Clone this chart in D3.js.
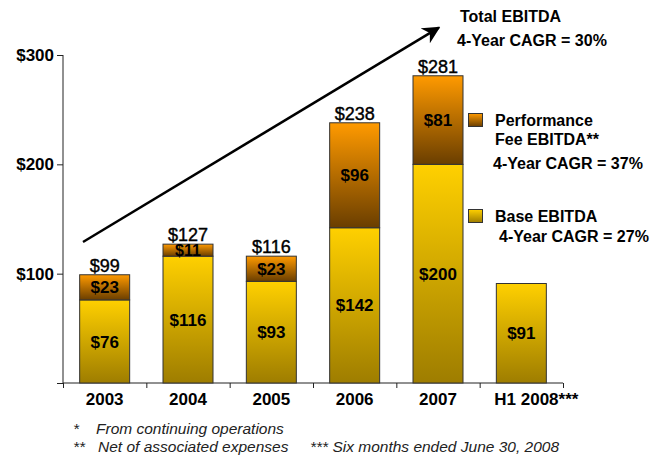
<!DOCTYPE html>
<html>
<head>
<meta charset="utf-8">
<script src="https://cdn.jsdelivr.net/npm/d3@7"></script>
<style>
  body { margin: 0; background: #fff; }
  svg { font-family: Arial, "Liberation Sans", sans-serif; }
  .axis path, .axis line { stroke: #222; }
  .axis text { fill: #000; font-weight: bold; font-size: 17px; }
</style>
</head>
<body>
<div id="chart"></div>
<script>
// chart data
const years = ["2003", "2004", "2005", "2006", "2007", "H1 2008"];
const baseEbitda = [76, 116, 93, 142, 200, 91];
const perfEbitda = [23, 11, 23, 96, 81, 0];
const totals = [99, 127, 116, 238, 281, null];
const yTicks = [0, 100, 200, 300];

// trend arrow ends, in (category position, $) units
const arrowPts = [[0.24, 129], [4.51, 325]];

const margin = { top: 55, right: 95, bottom: 73, left: 63 };
const width = 658 - margin.left - margin.right;
const height = 456 - margin.top - margin.bottom;

const svg = d3.select("#chart")
    .append("svg")
    .attr("width", 658)
    .attr("height", 456);

const defs = svg.append("defs");

function gradient(id, top, bottom) {
    const g = defs.append("linearGradient")
        .attr("id", id)
        .attr("x1", 0).attr("y1", 0)
        .attr("x2", 0).attr("y2", 1);
    g.append("stop").attr("offset", "0%").attr("stop-color", top);
    g.append("stop").attr("offset", "100%").attr("stop-color", bottom);
}
gradient("baseGrad", "#ffd000", "#9e7d00");
gradient("perfGrad", "#ff9a00", "#6a3e00");

defs.append("marker")
    .attr("id", "arrowHead")
    .attr("viewBox", "0 0 10 10")
    .attr("refX", 9)
    .attr("refY", 5)
    .attr("markerWidth", 7)
    .attr("markerHeight", 7)
    .attr("markerUnits", "strokeWidth")
    .attr("orient", "auto")
    .append("path")
    .attr("d", "M0,0 L10,5 L0,10 L3,5 Z")
    .attr("fill", "#000");

const g = svg.append("g")
    .attr("transform", "translate(" + margin.left + "," + margin.top + ")");

const xScale = d3.scaleBand()
    .domain(years)
    .range([0, width])
    .paddingInner(0.4)
    .paddingOuter(0.2);

const xPos = d3.scaleLinear()
    .domain([0, years.length])
    .range([0, width]);

const yScale = d3.scaleLinear()
    .domain([0, 300])
    .range([height, 0]);

const rows = years.map((y, i) => ({
    year: y, base: baseEbitda[i], perf: perfEbitda[i], total: totals[i]
}));

// y axis
g.append("g")
    .attr("class", "axis")
    .call(d3.axisLeft(yScale).tickValues(yTicks).tickSize(6).tickPadding(3)
        .tickFormat(d => d ? "$" + d : ""))
    .call(a => a.select(".domain").attr("d", "M0," + height + "V0"));

// x axis: tick marks at category boundaries
g.append("g")
    .attr("class", "axis")
    .attr("transform", "translate(0," + height + ")")
    .call(d3.axisBottom(xPos).ticks(years.length).tickSize(5).tickFormat(""))
    .call(a => a.select(".domain").attr("d", "M0,0H" + width));

// x labels
const xLabels = g.append("g")
    .attr("class", "axis")
    .attr("transform", "translate(0," + height + ")")
    .call(d3.axisBottom(xScale).tickSize(0).tickPadding(10));
xLabels.select(".domain").remove();
xLabels.selectAll(".tick text")
    .filter(d => d === "H1 2008")
    .attr("dx", 15)
    .append("tspan").text("***");

// bars
const bars = g.selectAll(".bar")
    .data(rows)
    .enter().append("g")
    .attr("class", "bar");

bars.append("rect")
    .attr("x", d => xScale(d.year))
    .attr("y", d => yScale(d.base))
    .attr("width", xScale.bandwidth())
    .attr("height", d => height - yScale(d.base))
    .attr("fill", "url(#baseGrad)")
    .attr("stroke", "#333")
    .attr("stroke-width", 1);

bars.filter(d => d.perf > 0).append("rect")
    .attr("x", d => xScale(d.year))
    .attr("y", d => yScale(d.base + d.perf))
    .attr("width", xScale.bandwidth())
    .attr("height", d => yScale(d.base) - yScale(d.base + d.perf))
    .attr("fill", "url(#perfGrad)")
    .attr("stroke", "#333")
    .attr("stroke-width", 1);

// segment labels
bars.append("text")
    .attr("x", d => xScale(d.year) + xScale.bandwidth() / 2)
    .attr("y", d => yScale(d.base / 2))
    .attr("dy", "0.36em")
    .attr("text-anchor", "middle")
    .style("font-weight", "bold")
    .style("font-size", "17px")
    .text(d => "$" + d.base);

bars.filter(d => d.perf > 0).append("text")
    .attr("x", d => xScale(d.year) + xScale.bandwidth() / 2)
    .attr("y", d => yScale(d.base + d.perf / 2))
    .attr("dy", "0.36em")
    .attr("text-anchor", "middle")
    .style("font-weight", "bold")
    .style("font-size", d => d.perf < 15 ? "16px" : "17px")
    .text(d => "$" + d.perf);

// totals above bars
bars.filter(d => d.total != null).append("text")
    .attr("x", d => xScale(d.year) + xScale.bandwidth() / 2)
    .attr("y", d => yScale(d.total) - 3)
    .attr("text-anchor", "middle")
    .style("font-size", "18px")
    .style("stroke", "#000")
    .style("stroke-width", 0.4)
    .text(d => "$" + d.total);

// trend arrow
g.append("line")
    .attr("x1", xPos(arrowPts[0][0]))
    .attr("y1", yScale(arrowPts[0][1]))
    .attr("x2", xPos(arrowPts[1][0]))
    .attr("y2", yScale(arrowPts[1][1]))
    .attr("stroke", "#000")
    .attr("stroke-width", 2.5)
    .attr("marker-end", "url(#arrowHead)");

// annotation and legend
const bold16 = s => s.style("font-weight", "bold").style("font-size", "16px");

svg.append("text").attr("x", 460).attr("y", 22).call(bold16).text("Total EBITDA");
svg.append("text").attr("x", 457).attr("y", 46).call(bold16).text("4-Year CAGR = 30%");

svg.append("rect").attr("x", 468.5).attr("y", 113.5).attr("width", 14).attr("height", 13)
    .attr("fill", "url(#perfGrad)").attr("stroke", "#333");
svg.append("text").attr("x", 495).attr("y", 126).call(bold16).text("Performance");
svg.append("text").attr("x", 495).attr("y", 145).call(bold16).text("Fee EBITDA**");
svg.append("text").attr("x", 493).attr("y", 169).call(bold16).text("4-Year CAGR = 37%");

svg.append("rect").attr("x", 468.5).attr("y", 209.5).attr("width", 14).attr("height", 13)
    .attr("fill", "url(#baseGrad)").attr("stroke", "#333");
svg.append("text").attr("x", 495).attr("y", 222).call(bold16).text("Base EBITDA");
svg.append("text").attr("x", 499).attr("y", 242).call(bold16).text("4-Year CAGR = 27%");

// footnotes
const note = s => s.style("font-style", "italic").style("font-size", "15.5px").attr("fill", "#222");
svg.append("text").attr("x", 73).attr("y", 434).call(note).text("*");
svg.append("text").attr("x", 96).attr("y", 434).call(note).text("From continuing operations");
svg.append("text").attr("x", 73).attr("y", 452).call(note).text("**");
svg.append("text").attr("x", 98).attr("y", 452).call(note).text("Net of associated expenses");
svg.append("text").attr("x", 310).attr("y", 452).call(note).text("*** Six months ended June 30, 2008");
</script>
</body>
</html>
